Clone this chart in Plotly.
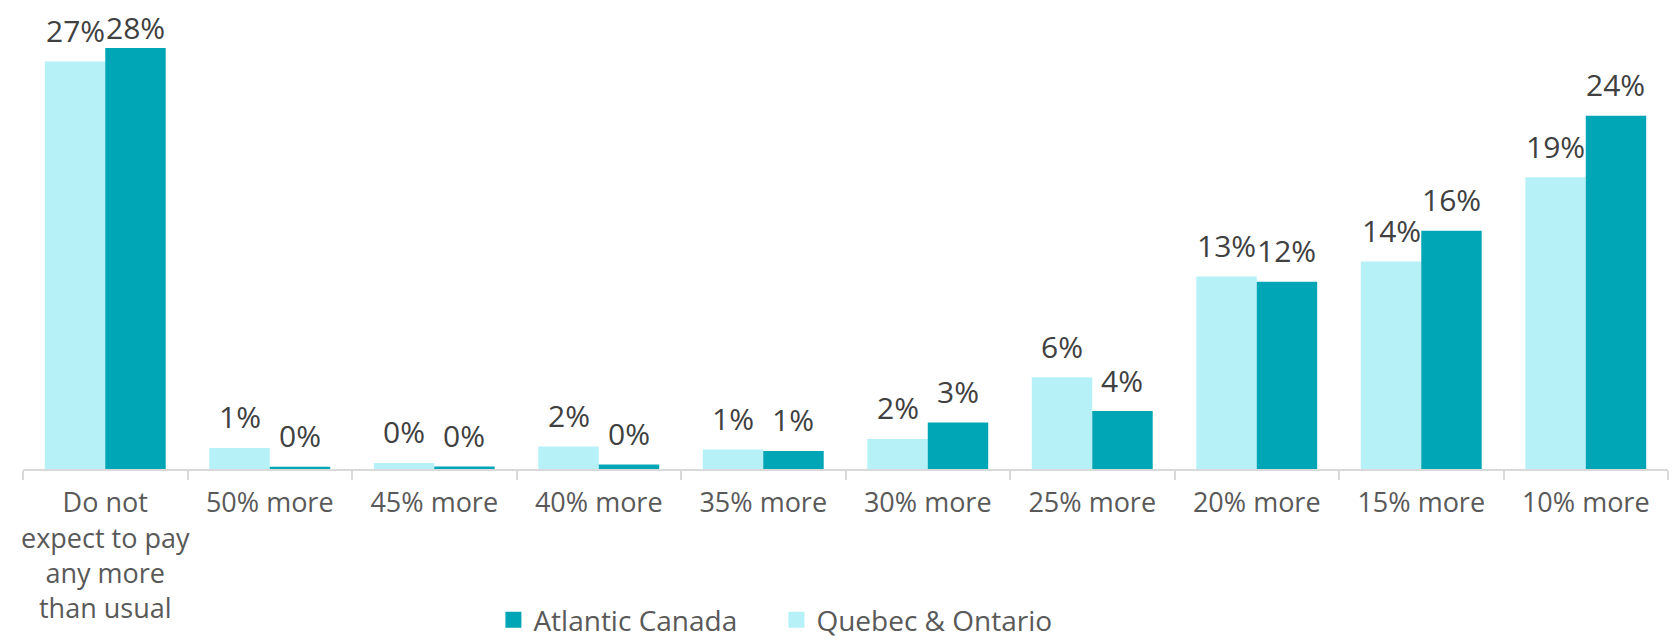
import plotly.graph_objects as go

categories = ["Do not<br>expect to pay<br>any more<br>than usual", "50% more", "45% more", "40% more",
              "35% more", "30% more", "25% more", "20% more", "15% more", "10% more"]
quebec_ontario = [27.1, 1.4, 0.4, 1.5, 1.3, 2.0, 6.1, 12.8, 13.8, 19.4]
atlantic_canada = [28.0, 0.15, 0.16, 0.3, 1.2, 3.1, 3.85, 12.45, 15.85, 23.5]
qo_labels = ["27%", "1%", "0%", "2%", "1%", "2%", "6%", "13%", "14%", "19%"]
ac_labels = ["28%", "0%", "0%", "0%", "1%", "3%", "4%", "12%", "16%", "24%"]

W, H = 1673, 642
ML, MR, MT, MB = 23, 5, 18, 173
YMAX = 30
BARGAP = 0.265
LIGHT = "#B6F1F8"
DARK = "#00A6B5"
LABEL_GAP = 31      # px from bar top to label centre
LABEL_MIN_Y = 27    # px from top of figure (labels kept inside the chart)

fig = go.Figure()
fig.add_trace(go.Bar(name="Quebec & Ontario", x=categories, y=quebec_ontario, showlegend=False,
                     marker=dict(color=LIGHT, line=dict(width=0)), hoverinfo="skip"))
fig.add_trace(go.Bar(name="Atlantic Canada", x=categories, y=atlantic_canada, showlegend=False,
                     marker=dict(color=DARK, line=dict(width=0)), hoverinfo="skip"))
# legend entries (bigger square swatches, like the reference)
for name, col in (("Atlantic Canada", DARK), ("Quebec & Ontario", LIGHT)):
    fig.add_trace(go.Scatter(name=name, x=[None], y=[None], mode="markers", hoverinfo="skip",
                             marker=dict(symbol="square", size=16, color=col, line=dict(width=0))))

plot_h = H - MT - MB
ppu = plot_h / YMAX
cat_px = (W - ML - MR) / len(categories)
half_bar = cat_px * (1 - BARGAP) / 4
annotations = []
for vals, labels, sign in ((quebec_ontario, qo_labels, -1), (atlantic_canada, ac_labels, 1)):
    for c, v, t in zip(categories, vals, labels):
        bar_top = MT + (YMAX - v) * ppu
        centre = max(bar_top - LABEL_GAP, LABEL_MIN_Y)
        annotations.append(dict(x=c, y=v, xref="x", yref="y", text=t, showarrow=False,
                                xshift=sign * half_bar, yshift=bar_top - centre, yanchor="middle",
                                font=dict(family="Open Sans", size=30, color="#404040")))

fig.update_layout(
    width=W, height=H,
    margin=dict(l=ML, r=MR, t=MT, b=MB, autoexpand=False),
    paper_bgcolor="white", plot_bgcolor="white",
    barmode="group", bargap=BARGAP, bargroupgap=0,
    font=dict(family="Open Sans", color="#595959"),
    annotations=annotations,
    showlegend=True,
    legend=dict(orientation="h", x=0.458, xanchor="center", y=-0.335, yanchor="middle",
                traceorder="normal", font=dict(family="Open Sans", size=28, color="#595959"),
                itemwidth=30, entrywidth=238, itemsizing="trace", bgcolor="rgba(0,0,0,0)"),
    xaxis=dict(type="category", showgrid=False, showline=True, linecolor="#D9D9D9", linewidth=2,
               ticks="outside", tickson="boundaries", ticklen=9, tickcolor="#D9D9D9", tickwidth=2,
               tickfont=dict(family="Open Sans", size=27, color="#595959"),
               ticklabelstandoff=9, tickangle=0, fixedrange=True, automargin=False),
    yaxis=dict(range=[0, YMAX], visible=False, showgrid=False, zeroline=False, fixedrange=True,
               automargin=False),
)

fig.write_html("out.html", config={"displayModeBar": False},
               post_script="document.body.style.margin='0';")
